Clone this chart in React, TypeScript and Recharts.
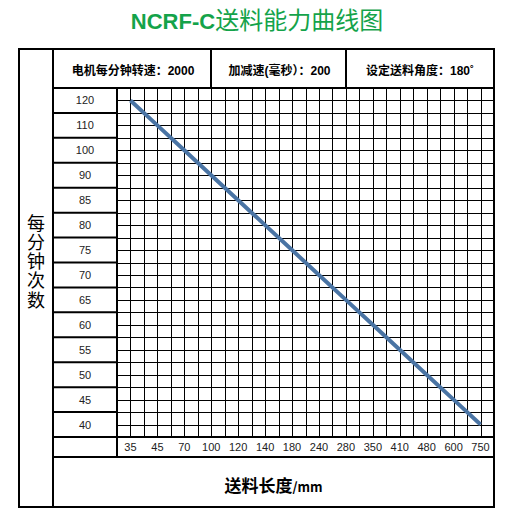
import React from 'react';
import { LineChart, Line, XAxis, YAxis, CartesianGrid } from 'recharts';

// feed length (mm) along the bottom, strokes per minute down the side
const feedLengths = ['35', '45', '70', '100', '120', '140', '180', '240', '280', '350', '410', '480', '600', '750'];
const strokesPerMin = [120, 110, 100, 90, 85, 80, 75, 70, 65, 60, 55, 50, 45, 40];

const headerCells = ['电机每分钟转速：2000', '加减速(毫秒）：200', '设定送料角度：180˚'];

const data = feedLengths.map((len, i) => ({ len, spm: strokesPerMin[i] }));

const CHART_W = 441;
const CHART_H = 369;
const AXIS_W = 64;
const AXIS_H = 20;
const PLOT_W = CHART_W - AXIS_W;
const PLOT_H = CHART_H - AXIS_H;
const COL = PLOT_W / (feedLengths.length * 2);
const ROW = PLOT_H / (strokesPerMin.length * 2);

const TICK_FONT = "'Liberation Sans', Arial, sans-serif";
const CJK = "'Liberation Sans', 'Noto Sans CJK SC', sans-serif";

function YTick(props: any) {
  const { y, payload, index } = props;
  const last = index === strokesPerMin.length - 1;
  return (
    <g>
      <text x={AXIS_W / 2} y={y} textAnchor="middle" dominantBaseline="central" fontSize={11} fill="#222" fontFamily={TICK_FONT}>
        {payload.value}
      </text>
      {!last && <line x1={0} x2={AXIS_W} y1={y + ROW} y2={y + ROW} stroke="#000" strokeWidth={2} />}
    </g>
  );
}

function XTick(props: any) {
  const { x, payload } = props;
  return (
    <text x={x} y={PLOT_H + AXIS_H / 2} textAnchor="middle" dominantBaseline="central" fontSize={11} fill="#222" fontFamily={TICK_FONT}>
      {payload.value}
    </text>
  );
}

function Rule({ x, y, w, h }: { x: number; y: number; w: number; h: number }) {
  return <div style={{ position: 'absolute', left: x, top: y, width: w, height: h, background: '#000' }} />;
}

export default function App() {
  const vLines = Array.from({ length: feedLengths.length * 2 - 1 }, (_, k) => Math.round(AXIS_W + (k + 1) * COL) + 0.5);
  const hLines = Array.from({ length: strokesPerMin.length * 2 - 1 }, (_, k) => Math.round((k + 1) * ROW) + 0.5);

  return (
    <div style={{ position: 'absolute', left: 0, top: 0, width: 510, height: 516, background: '#fff' }}>
      <div style={{ position: 'absolute', left: 0, top: 4, width: 514, textAlign: 'center', lineHeight: '30px', color: '#14a34a', whiteSpace: 'nowrap' }}>
        <span style={{ fontFamily: TICK_FONT, fontWeight: 700, fontSize: 22 }}>NCRF-C</span>
        <span style={{ fontFamily: "'Noto Sans CJK SC', sans-serif", fontSize: 24 }}>送料能力曲线图</span>
      </div>

      <div style={{ position: 'absolute', left: 53, top: 88 }}>
        <LineChart width={CHART_W} height={CHART_H} data={data} margin={{ top: 0, right: 0, bottom: 0, left: 0 }}>
          <CartesianGrid
            stroke="#000"
            strokeWidth={1}
            verticalCoordinatesGenerator={() => vLines}
            horizontalCoordinatesGenerator={() => hLines}
          />
          <XAxis
            dataKey="len"
            type="category"
            height={AXIS_H}
            interval={0}
            padding={{ left: COL, right: COL }}
            axisLine={false}
            tickLine={false}
            tick={<XTick />}
          />
          <YAxis
            dataKey="spm"
            type="category"
            width={AXIS_W}
            reversed
            interval={0}
            padding={{ top: ROW, bottom: ROW }}
            axisLine={false}
            tickLine={false}
            tick={<YTick />}
          />
          <Line type="linear" dataKey="spm" stroke="#4a74a4" strokeWidth={4} dot={false} isAnimationActive={false} />
        </LineChart>
      </div>

      {/* table frame */}
      <div style={{ position: 'absolute', left: 18, top: 48, width: 477, height: 460, border: '2px solid #000', boxSizing: 'border-box' }} />
      <Rule x={52} y={48} w={2} h={460} />
      <Rule x={52} y={87} w={443} h={2} />
      <Rule x={210} y={48} w={2} h={40} />
      <Rule x={345} y={48} w={2} h={40} />
      <Rule x={116} y={88} w={2} h={369} />
      <Rule x={52} y={436} w={443} h={2} />
      <Rule x={52} y={456} w={443} h={2} />

      {headerCells.map((t, i) => {
        const edges = [54, 212, 347, 493];
        return (
          <div
            key={t}
            style={{
              position: 'absolute', left: edges[i], top: 50, width: edges[i + 1] - edges[i], height: 38,
              display: 'flex', alignItems: 'center', justifyContent: 'center',
              fontFamily: CJK, fontWeight: 700, fontSize: 12, color: '#000', whiteSpace: 'nowrap',
            }}
          >
            {t}
          </div>
        );
      })}

      <div style={{ position: 'absolute', left: 20, top: 214, width: 32, display: 'flex', justifyContent: 'center' }}>
        <span
          style={{
            writingMode: 'vertical-rl', textOrientation: 'upright', fontFamily: "'Noto Sans CJK SC', sans-serif",
            fontSize: 18, letterSpacing: '1.2px', lineHeight: '32px', color: '#000',
          }}
        >
          每分钟次数
        </span>
      </div>

      <div style={{ position: 'absolute', left: 54, top: 471, width: 439, height: 28, lineHeight: '28px', textAlign: 'center', fontFamily: "'Noto Sans CJK SC', sans-serif", fontWeight: 700, fontSize: 17, color: '#000' }}>
        送料长度<span style={{ fontSize: 13 }}>/mm</span>
      </div>
    </div>
  );
}
